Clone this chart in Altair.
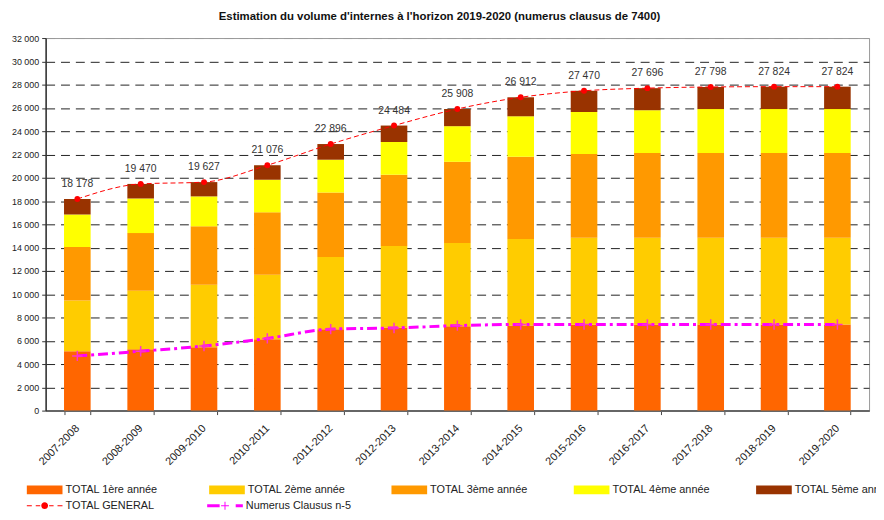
import altair as alt
import pandas as pd

periods = ["2007-2008", "2008-2009", "2009-2010", "2010-2011", "2011-2012", "2012-2013",
           "2013-2014", "2014-2015", "2015-2016", "2016-2017", "2017-2018", "2018-2019", "2019-2020"]

year1 = [5100, 5270, 5450, 6120, 6980, 7130, 7240, 7320, 7380, 7390, 7400, 7400, 7400]
year2 = [4350, 5030, 5350, 5540, 6220, 7000, 7160, 7410, 7470, 7460, 7450, 7450, 7450]
year3 = [4600, 4950, 5030, 5370, 5530, 6130, 6970, 7070, 7200, 7270, 7280, 7280, 7280]
year4 = [2800, 2970, 2570, 2800, 2820, 2810, 3060, 3480, 3600, 3680, 3770, 3770, 3770]
year5 = [1328, 1250, 1227, 1246, 1346, 1414, 1478, 1632, 1820, 1896, 1898, 1924, 1924]

total_general = [18178, 19470, 19627, 21076, 22896, 24484, 25908, 26912, 27470, 27696, 27798, 27824, 27824]
numerus_clausus = [4700, 5100, 5550, 6200, 7000, 7100, 7300, 7400, 7400, 7400, 7400, 7400, 7400]

levels = ["TOTAL 1ère année", "TOTAL 2ème année", "TOTAL 3ème année", "TOTAL 4ème année", "TOTAL 5ème année"]
level_colors = ["#FF6600", "#FFCC00", "#FF9900", "#FFFF00", "#993300"]
line_series = ["TOTAL GENERAL", "Numerus Clausus n-5"]
line_colors = ["#FF0000", "#FF00FF"]

title_text = "Estimation du volume d'internes à l'horizon 2019-2020 (numerus clausus de 7400)"
FONT = "Liberation Sans"

rows = []
for i, p in enumerate(periods):
    for k, arr in enumerate([year1, year2, year3, year4, year5]):
        rows.append({"period": p, "niveau": levels[k], "ordre": k, "value": arr[i]})
bars_df = pd.DataFrame(rows)

lines_df = pd.DataFrame({
    "period": periods,
    "total": total_general,
    "nc": numerus_clausus,
    "label": [f"{v:,}".replace(",", " ") for v in total_general],
})
leg_total_df = pd.DataFrame({"serie": [line_series[0]], "period": [periods[0]], "value": [total_general[0]]})
leg_nc_df = pd.DataFrame({"serie": [line_series[1]], "period": [periods[0]], "value": [numerus_clausus[0]]})

x_axis = alt.Axis(title=None, labelAngle=315, labelAlign="right", labelBaseline="middle",
                  tickBand="extent", tickSize=4, labelPadding=12, labelFontSize=11,
                  labelColor="#222", domainColor="#666", domainWidth=2,
                  tickColor="#444", grid=False)
x_scale = alt.Scale(paddingInner=0.58, paddingOuter=0.29)


def X():
    return alt.X("period:N", sort=periods, scale=x_scale, axis=x_axis)


y_scale = alt.Scale(domain=[0, 32000], nice=False)
y_axis = alt.Axis(title=None, values=list(range(0, 32001, 2000)),
                  labelExpr="replace(format(datum.value, ','), ',', ' ')",
                  grid=True, gridDash=[9, 6],
                  gridColor={"condition": {"test": "datum.value == 32000", "value": "#999999"}, "value": "#222222"},
                  tickSize=4, tickColor="#333", labelPadding=3, domainColor="#333", domainWidth=1.5,
                  labelFontSize=9, labelColor="#222")

bar_legend = alt.Legend(title=None, orient="none", legendX=-19, legendY=438, direction="horizontal",
                        columns=5, columnPadding=46, gridAlign="all", symbolType="M-1,-0.25H1V0.25H-1Z",
                        symbolSize=1296, symbolStrokeWidth=0, labelFontSize=11, labelOffset=3,
                        labelColor="#222", padding=0, labelLimit=200)

bars = alt.Chart(bars_df).mark_bar().encode(
    x=X(),
    y=alt.Y("value:Q", stack="zero", scale=y_scale, axis=y_axis),
    color=alt.Color("niveau:N", scale=alt.Scale(domain=levels, range=level_colors), legend=bar_legend),
    order=alt.Order("ordre:Q"),
)

total_line = alt.Chart(lines_df).mark_line(color="#FF0000", strokeWidth=1, strokeDash=[5, 3],
                                           interpolate="monotone").encode(
    x=X(), y=alt.Y("total:Q", scale=y_scale, axis=y_axis))
total_pts = alt.Chart(lines_df).mark_point(filled=True, shape="circle", color="#FF0000", size=35,
                                           opacity=1).encode(
    x=X(), y=alt.Y("total:Q", scale=y_scale, axis=y_axis))
total_txt = alt.Chart(lines_df).mark_text(dy=-15, fontSize=10.5, color="#333").encode(
    x=X(), y=alt.Y("total:Q", scale=y_scale, axis=y_axis), text="label:N")

nc_line = alt.Chart(lines_df).mark_line(color="#FF00FF", strokeWidth=3, strokeDash=[10, 4, 3, 4],
                                        interpolate="monotone").encode(
    x=X(), y=alt.Y("nc:Q", scale=y_scale, axis=y_axis))
nc_pts = alt.Chart(lines_df).mark_point(shape="M-1,0H1M0,-1V1", color="#FF33CC", size=110,
                                        strokeWidth=1.5, filled=False, opacity=1).encode(
    x=X(), y=alt.Y("nc:Q", scale=y_scale, axis=y_axis))

path_total = ("M-1,-0.03H-0.72V0.03H-1Z M-0.5,-0.03H-0.25V0.03H-0.5Z "
              "M0.25,-0.03H0.5V0.03H0.25Z M0.72,-0.03H1V0.03H0.72Z "
              "M0.19,0A0.19,0.19,0,1,1,-0.19,0A0.19,0.19,0,1,1,0.19,0Z")
path_nc = ("M-1,-0.083H-0.3V0.083H-1Z M0.6,-0.083H1V0.083H0.6Z "
           "M-0.028,-0.22H0.028V0.22H-0.028Z M-0.22,-0.028H0.22V0.028H-0.22Z")


def line_legend(x, path):
    return alt.Legend(title=None, orient="none", legendX=x, legendY=454, symbolType=path,
                      symbolSize=1296, symbolStrokeWidth=0, symbolOpacity=1,
                      labelFontSize=11, labelOffset=3, labelColor="#222", padding=0, labelLimit=200)


leg_total = alt.Chart(leg_total_df).mark_point(filled=True, opacity=0).encode(
    x=X(), y=alt.Y("value:Q", scale=y_scale, axis=y_axis),
    color=alt.Color("serie:N", scale=alt.Scale(domain=[line_series[0]], range=[line_colors[0]]),
                    legend=line_legend(-19, path_total)),
)
leg_nc = alt.Chart(leg_nc_df).mark_point(filled=True, opacity=0).encode(
    x=X(), y=alt.Y("value:Q", scale=y_scale, axis=y_axis),
    color=alt.Color("serie:N", scale=alt.Scale(domain=[line_series[1]], range=[line_colors[1]]),
                    legend=line_legend(163, path_nc)),
)

chart = alt.layer(bars, total_line, total_pts, total_txt, nc_line, nc_pts, leg_total, leg_nc).resolve_scale(
    color="independent"
).properties(
    width=831, height=376,
    title=alt.TitleParams(title_text, fontSize=11.5, fontWeight="bold", anchor="middle", dx=-18,
                          offset=12, color="#111"),
    autosize=alt.AutoSizeParams(type="none"),
    padding={"left": 38, "top": 28, "right": 7, "bottom": 100},
).configure(font=FONT).configure_view(stroke="#999", strokeWidth=1)

chart.save("out.html", embed_options={"renderer": "svg", "actions": False})
